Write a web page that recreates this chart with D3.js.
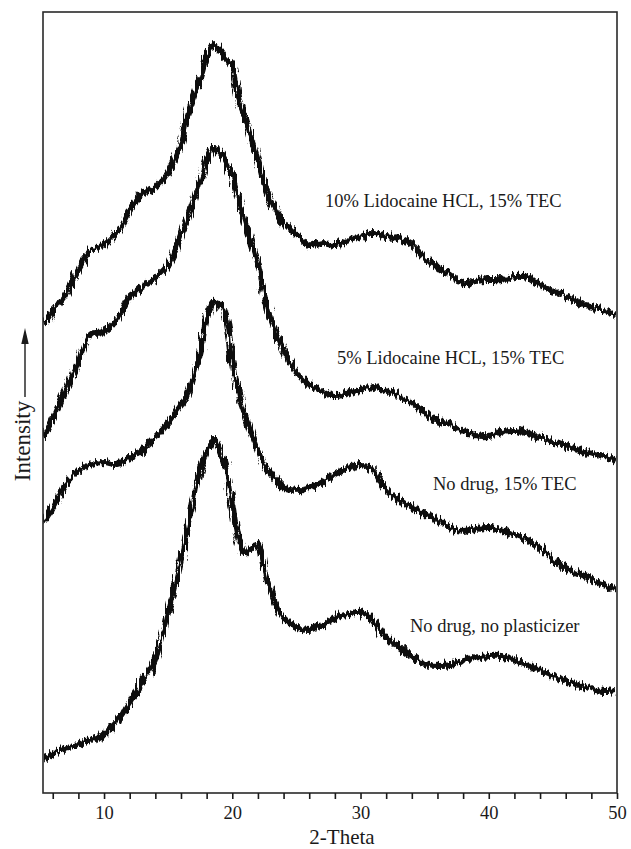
<!DOCTYPE html>
<html>
<head>
<meta charset="utf-8">
<script src="https://cdn.jsdelivr.net/npm/d3@7"></script>
<style>
  html, body { margin: 0; padding: 0; background: #fff; }
  svg { display: block; }
  text { font-family: "Liberation Serif", "Times New Roman", serif; fill: #1a1a1a; }
</style>
</head>
<body>
<svg id="chart" width="631" height="849"></svg>
<script>
// ---- data (2-Theta grid, intensity in arbitrary units, offset patterns) ----
const twoTheta = [5.25, 6, 7, 8, 9, 10, 11, 12, 13, 14, 15,
  16, 16.5, 17, 17.5, 18, 18.5, 19, 19.5, 20, 20.5, 21, 21.5, 22, 22.5, 23,
  24, 25, 26, 27, 28, 29, 30, 31, 32, 33, 34, 35, 36, 37, 38, 39, 40,
  41, 42, 43, 44, 45, 46, 47, 48, 49, 50];

const lido10 = [468, 481, 498, 523, 543, 548, 561, 583, 599, 606, 621,
  649, 678, 697, 714, 735, 748, 743, 735, 728, 693, 675, 653, 633, 609, 591,
  571, 558, 548, 550, 548, 552, 556, 560, 557, 555, 548, 535, 526, 518, 510, 512, 513,
  513, 516, 515, 508, 502, 497, 491, 486, 483, 478];

const lido5 = [355, 375, 403, 431, 459, 461, 473, 496, 506, 515, 528,
  558, 575, 593, 613, 633, 645, 641, 630, 617, 593, 571, 550, 528, 498, 473,
  443, 421, 408, 402, 397, 400, 403, 406, 402, 397, 389, 380, 373, 369, 362, 358, 357,
  361, 362, 360, 356, 352, 347, 343, 339, 336, 333];

const noDrugTEC = [271, 285, 308, 322, 329, 331, 329, 335, 343, 355, 370,
  388, 398, 418, 441, 473, 491, 488, 475, 433, 398, 378, 360, 343, 328, 319,
  306, 302, 305, 311, 319, 325, 328, 323, 303, 293, 285, 279, 273, 265, 262, 264, 265,
  263, 258, 253, 245, 233, 225, 219, 213, 208, 203];

const noDrugNoPlast = [33, 39, 45, 49, 53, 59, 71, 91, 111, 133, 181,
  233, 263, 293, 323, 341, 353, 343, 325, 288, 253, 240, 245, 248, 223, 201,
  175, 166, 163, 168, 175, 179, 181, 173, 155, 146, 137, 129, 127, 128, 133, 135, 137,
  137, 133, 128, 123, 117, 112, 108, 104, 102, 103];

const seriesNames = ["10% Lidocaine HCL, 15% TEC", "5% Lidocaine HCL, 15% TEC",
  "No drug, 15% TEC", "No drug, no plasticizer"];
const xTickValues = [6, 8, 10, 12, 14, 16, 18, 20, 22, 24, 26, 28, 30, 32, 34, 36, 38, 40, 42, 44, 46, 48, 50];
const xTickLabels = [10, 20, 30, 40, 50];

// ---- layout ----
const M = { left: 43, top: 12, right: 617, bottom: 793 };
const svg = d3.select("#chart");

const x = d3.scaleLinear().domain([5.24, 50]).range([M.left, M.right]);
const y = d3.scaleLinear().domain([0, 781]).range([M.bottom, M.top]);

// noisy-trace look (style only)
const defs = svg.append("defs");
const f = defs.append("filter").attr("id", "grain")
  .attr("x", "-2%").attr("y", "-5%").attr("width", "104%").attr("height", "110%");
f.append("feTurbulence").attr("type", "fractalNoise").attr("baseFrequency", "0.45 0.06")
  .attr("numOctaves", 2).attr("seed", 7).attr("result", "t");
f.append("feDisplacementMap").attr("in", "SourceGraphic").attr("in2", "t")
  .attr("scale", 11).attr("xChannelSelector", "R").attr("yChannelSelector", "G");

const allSeries = [lido10, lido5, noDrugTEC, noDrugNoPlast];
const line = d3.line()
  .x((d, i) => x(twoTheta[i]))
  .y(d => y(d))
  .curve(d3.curveCatmullRom.alpha(0.5));

const clip = defs.append("clipPath").attr("id", "plotclip");
clip.append("rect").attr("x", M.left).attr("y", M.top)
  .attr("width", M.right - M.left).attr("height", M.bottom - M.top);

const g = svg.append("g").attr("clip-path", "url(#plotclip)");
g.selectAll("path.trace").data(allSeries).join("path")
  .attr("class", "trace")
  .attr("d", d => line(d))
  .attr("fill", "none")
  .attr("stroke", "#111")
  .attr("stroke-width", 6)
  .attr("stroke-linejoin", "round")
  .attr("filter", "url(#grain)");

// frame
svg.append("rect")
  .attr("x", M.left).attr("y", M.top)
  .attr("width", M.right - M.left).attr("height", M.bottom - M.top)
  .attr("fill", "none").attr("stroke", "#2a2a2a").attr("stroke-width", 1.6);

// x axis
const xAxis = d3.axisBottom(x)
  .tickValues(xTickValues)
  .tickSize(6)
  .tickSizeOuter(0)
  .tickFormat(d => xTickLabels.includes(d) ? d : "");
const ax = svg.append("g").attr("transform", `translate(0,${M.bottom})`).call(xAxis);
ax.select(".domain").remove();
ax.selectAll(".tick line").attr("stroke", "#1a1a1a").attr("stroke-width", 1.6);
ax.selectAll(".tick text")
  .attr("y", 26).attr("dy", 0)
  .style("font-family", '"Liberation Serif", "Times New Roman", serif')
  .style("font-size", "18.5px").attr("fill", "#1a1a1a");

// axis titles
svg.append("text").attr("x", 342).attr("y", 844)
  .attr("text-anchor", "middle").style("font-size", "21px").text("2-Theta");

svg.append("text")
  .attr("transform", "translate(30,441) rotate(-90)")
  .attr("text-anchor", "middle").style("font-size", "23px").text("Intensity");
svg.append("line").attr("x1", 25).attr("x2", 25).attr("y1", 397).attr("y2", 340)
  .attr("stroke", "#1a1a1a").attr("stroke-width", 1.4);
svg.append("path").attr("d", "M25,328 L21.3,344 L28.7,344 Z").attr("fill", "#1a1a1a");

// series annotations
const labelPos = [[325, 207], [337, 364], [433, 490], [410, 632]];
svg.selectAll("text.series").data(seriesNames).join("text")
  .attr("class", "series")
  .attr("x", (d, i) => labelPos[i][0])
  .attr("y", (d, i) => labelPos[i][1])
  .style("font-size", "18.5px")
  .text(d => d);
</script>
</body>
</html>
